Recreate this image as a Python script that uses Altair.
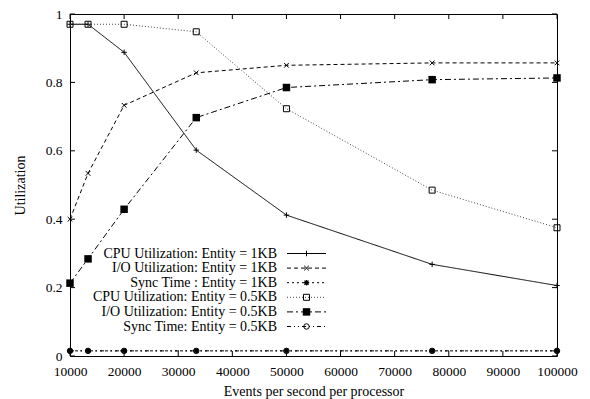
import altair as alt
import pandas as pd

x_vals = [10000, 13333, 20000, 33333, 50000, 76923, 100000]
cpu_1kb = [0.970, 0.970, 0.888, 0.602, 0.412, 0.268, 0.206]
io_1kb = [0.400, 0.534, 0.733, 0.828, 0.850, 0.857, 0.857]
sync_1kb = [0.015, 0.015, 0.015, 0.015, 0.015, 0.015, 0.015]
cpu_05kb = [0.970, 0.970, 0.970, 0.948, 0.723, 0.485, 0.375]
io_05kb = [0.213, 0.284, 0.429, 0.697, 0.785, 0.808, 0.813]
sync_05kb = [0.015, 0.015, 0.015, 0.015, 0.015, 0.015, 0.015]

series_names = [
    "CPU Utilization: Entity = 1KB",
    "I/O Utilization: Entity = 1KB",
    "Sync Time : Entity = 1KB",
    "CPU Utilization: Entity = 0.5KB",
    "I/O Utilization: Entity = 0.5KB",
    "Sync Time: Entity = 0.5KB",
]
series_values = [cpu_1kb, io_1kb, sync_1kb, cpu_05kb, io_05kb, sync_05kb]

x_ticks = [10000, 20000, 30000, 40000, 50000, 60000, 70000, 80000, 90000, 100000]
y_ticks = [0, 0.2, 0.4, 0.6, 0.8, 1.0]

W, H = 487, 342
FONT = "'Liberation Serif', 'Times New Roman', Times, serif"

rows = []
for name, vals in zip(series_names, series_values):
    for xv, yv in zip(x_vals, vals):
        rows.append({"series": name, "x": xv, "y": yv})
df = pd.DataFrame(rows)

xscale = alt.Scale(domain=[10000, 100000], nice=False, zero=False)
yscale = alt.Scale(domain=[0, 1], nice=False)

PLUS = "M-1,0L1,0M0,-1L0,1"
XMARK = "M-1,-1L1,1M-1,1L1,-1"
ASTER = "M-1,0L1,0M0,-1L0,1M-0.75,-0.75L0.75,0.75M-0.75,0.75L0.75,-0.75M-0.5,-0.5L0.5,-0.5L0.5,0.5L-0.5,0.5Z"
styles = [
    dict(dash=[1, 0], color="black", shape=PLUS, filled=False, size=30, sw=1.0),
    dict(dash=[4, 3], color="black", shape=XMARK, filled=False, size=22, sw=1.0),
    dict(dash=[2, 3], color="black", shape=ASTER, filled=False, size=30, sw=1.2),
    dict(dash=[1, 2], color="#444444", shape="square", filled=False, size=36, sw=1.0),
    dict(dash=[6, 3, 2, 3], color="black", shape="square", filled=True, size=56, sw=1.0),
    dict(dash=[4, 3, 1, 3, 1, 3], color="black", shape="circle", filled=False, size=30, sw=1.0),
]

layers = []
# inward ticks
tx = pd.DataFrame({"t": x_ticks})
ty = pd.DataFrame({"t": y_ticks})
layers.append(alt.Chart(tx).mark_rule(color="black", strokeWidth=1).encode(
    x=alt.X("t:Q", scale=xscale), y=alt.value(H), y2=alt.value(H - 5)))
layers.append(alt.Chart(tx).mark_rule(color="black", strokeWidth=1).encode(
    x=alt.X("t:Q", scale=xscale), y=alt.value(0), y2=alt.value(5)))
layers.append(alt.Chart(ty).mark_rule(color="black", strokeWidth=1).encode(
    y=alt.Y("t:Q", scale=yscale), x=alt.value(0), x2=alt.value(5)))
layers.append(alt.Chart(ty).mark_rule(color="black", strokeWidth=1).encode(
    y=alt.Y("t:Q", scale=yscale), x=alt.value(W), x2=alt.value(W - 5)))

base = alt.Chart(df)
for i, (name, st) in enumerate(zip(series_names, styles)):
    sub = base.transform_filter(alt.datum.series == name)
    enc_x = alt.X("x:Q", scale=xscale,
                  axis=alt.Axis(values=x_ticks, format="d", title="Events per second per processor",
                                ticks=False, grid=False, domain=False, labelPadding=8,
                                labelOverlap=False, labelFlush=False,
                                labelFont=FONT, labelFontSize=13.5, titleFont=FONT, titleFontSize=14,
                                titleFontWeight="normal", labelColor="black", titleColor="black",
                                titlePadding=7))
    enc_y = alt.Y("y:Q", scale=yscale,
                  axis=alt.Axis(values=y_ticks, title="Utilization", ticks=False, grid=False,
                                domain=False, labelPadding=8, labelFont=FONT, labelFontSize=13.5,
                                labelOverlap=False, labelFlush=False,
                                titleFont=FONT, titleFontSize=14, titleFontWeight="normal",
                                labelColor="black", titleColor="black", titlePadding=18,
                                labelExpr="datum.value == 0 ? '0' : datum.value == 1 ? '1' : format(datum.value, '.1f')"))
    layers.append(sub.mark_line(color=st["color"], strokeDash=st["dash"], strokeWidth=1).encode(
        x=enc_x, y=enc_y))
    layers.append(sub.mark_point(shape=st["shape"], filled=st["filled"], size=st["size"],
                                 color="black", opacity=1, strokeWidth=st["sw"]).encode(
        x="x:Q", y="y:Q"))

    # legend entry
    ly = 239.5 + i * 14.6
    ldf = pd.DataFrame({"series": [name]})
    layers.append(alt.Chart(ldf).mark_text(align="right", baseline="middle", font=FONT, fontSize=14,
                                           color="black").encode(
        x=alt.value(207), y=alt.value(ly), text="series:N"))
    layers.append(alt.Chart(ldf).mark_rule(color=st["color"], strokeDash=st["dash"], strokeWidth=1).encode(
        x=alt.value(217), x2=alt.value(256), y=alt.value(ly)))
    layers.append(alt.Chart(ldf).mark_point(shape=st["shape"], filled=st["filled"], size=st["size"],
                                            color="black", opacity=1, strokeWidth=st["sw"]).encode(
        x=alt.value(236.5), y=alt.value(ly)))

chart = alt.layer(*layers).properties(
    width=W, height=H,
    autosize=alt.AutoSizeParams(type="none"),
    padding={"left": 70, "top": 14, "right": 33, "bottom": 43},
    background="white",
).configure_view(stroke="black", strokeWidth=1)

chart.save("out.html", embed_options={"renderer": "svg", "actions": False})
